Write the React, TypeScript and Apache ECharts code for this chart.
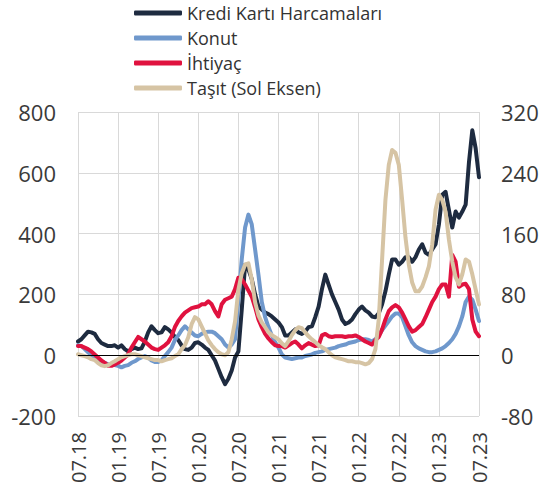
import React, { useEffect, useRef } from "react";
import * as echarts from "echarts";

// Half-month steps from 07.18 (index 0) to 07.23 (index 120)
const tickLabels = ["07.18", "01.19", "07.19", "01.20", "07.20", "01.21", "07.21", "01.22", "07.22", "01.23", "07.23"];

const seriesNames = ["Kredi Kartı Harcamaları", "Konut", "İhtiyaç", "Taşıt (Sol Eksen)"];

// Right axis units
const krediKarti = [
  18, 21, 26, 31, 30, 28, 21, 16, 14, 12,
  12, 13, 10, 13, 8, 5, 8, 10, 8, 9,
  18, 30, 38, 33, 29, 30, 37, 34, 30, 24,
  20, 13, 8, 7, 10, 16, 17, 14, 10, 7,
  0, -7, -18, -29, -38, -31, -20, -3, 5, 60,
  119, 113, 100, 80, 64, 60, 56, 54, 51, 47,
  43, 37, 26, 26, 30, 34, 30, 28, 31, 37,
  38, 50, 64, 87, 106, 93, 80, 70, 60, 47,
  41, 43, 47, 54, 60, 64, 59, 56, 51, 50,
  55, 67, 84, 106, 126, 126, 119, 123, 129, 129,
  123, 129, 139, 146, 135, 132, 139, 146, 172, 211,
  215, 191, 168, 189, 181, 189, 198, 254, 296, 272,
  234,
];

const konut = [
  13, 12, 8, 4, 0, -3, -5, -8, -10, -12,
  -13, -13, -14, -16, -14, -13, -10, -8, -5, -3,
  -1, -3, -7, -9, -9, -7, -1, 4, 10, 20,
  26, 33, 38, 34, 30, 26, 25, 28, 30, 31,
  31, 29, 25, 21, 14, 10, 14, 21, 73, 126,
  168, 185, 172, 139, 106, 70, 50, 37, 26, 17,
  10, 1, -3, -4, -5, -4, -3, -3, -1, 0,
  1, 3, 4, 5, 7, 8, 9, 10, 12, 13,
  14, 16, 17, 18, 20, 21, 21, 20, 18, 21,
  26, 33, 39, 45, 51, 55, 55, 50, 38, 26,
  17, 12, 9, 7, 5, 4, 4, 5, 7, 9,
  12, 16, 21, 28, 38, 51, 70, 77, 73, 60,
  45,
];

const ihtiyac = [
  12, 12, 10, 8, 5, 1, -3, -7, -10, -14,
  -14, -12, -10, -7, -3, 1, 10, 17, 24, 21,
  18, 14, 10, 8, 7, 10, 13, 17, 25, 37,
  45, 51, 56, 59, 62, 63, 64, 67, 67, 71,
  67, 58, 51, 67, 73, 75, 77, 87, 102, 100,
  93, 85, 77, 63, 47, 37, 28, 22, 17, 13,
  12, 12, 10, 13, 16, 18, 14, 9, 13, 16,
  14, 12, 13, 26, 28, 25, 24, 25, 25, 25,
  24, 25, 25, 26, 24, 21, 18, 16, 14, 20,
  24, 34, 47, 58, 63, 66, 63, 56, 47, 38,
  31, 33, 37, 41, 50, 60, 70, 77, 87, 93,
  93, 77, 132, 123, 90, 93, 94, 87, 47, 31,
  25,
];

// Left axis units
const tasit = [
  3, 0, -3, -7, -13, -16, -26, -33, -36, -33,
  -26, -20, -13, -7, -3, 0, 3, 3, 0, -3,
  -7, -10, -13, -16, -16, -20, -16, -13, -10, -3,
  3, 20, 33, 59, 102, 125, 118, 95, 72, 49,
  33, 20, 10, 3, 0, 10, 52, 111, 216, 269,
  298, 302, 249, 174, 131, 108, 92, 75, 66, 59,
  52, 39, 30, 46, 66, 82, 92, 89, 75, 62,
  52, 43, 33, 26, 20, 10, 0, -7, -10, -13,
  -16, -20, -20, -23, -23, -26, -30, -26, -13, 20,
  118, 315, 511, 626, 675, 666, 626, 511, 387, 298,
  239, 210, 210, 226, 256, 292, 364, 479, 528, 511,
  472, 380, 308, 256, 233, 266, 315, 308, 266, 216,
  167,
];

const colors = ["#1e2b40", "#6f98cc", "#e0123f", "#d6c4a4"];

const toPairs = (arr: number[]) => arr.map((v, i) => [i, v]);

export default function App() {
  const ref = useRef<HTMLDivElement>(null);
  useEffect(() => {
    if (!ref.current) return;
    const chart = echarts.init(ref.current, undefined, { renderer: "svg" });
    const font = "'Open Sans', 'Noto Sans', sans-serif";
    const mkSeries = (i: number, data: number[], axis: number, extra: any = {}) => ({
      name: seriesNames[i],
      type: "line",
      yAxisIndex: axis,
      data: toPairs(data),
      showSymbol: false,
      symbol: "none",
      lineStyle: { color: colors[i], width: 4, join: "round", cap: "round" },
      itemStyle: { color: colors[i] },
      ...extra,
    });
    chart.setOption({
      animation: false,
      backgroundColor: "#ffffff",
      textStyle: { fontFamily: font },
      legend: {
        orient: "vertical",
        left: 129,
        top: -2,
        itemWidth: 48,
        itemHeight: 5,
        itemGap: 5,
        icon: "roundRect",
        data: seriesNames,
        textStyle: { fontSize: 18, lineHeight: 20, color: "#333333", fontFamily: font },
      },
      grid: { left: 78, right: 63, top: 112, bottom: 75, containLabel: false },
      xAxis: {
        type: "value",
        min: 0,
        max: 120,
        interval: 12,
        axisLine: { show: false },
        axisTick: { show: false },
        splitLine: { show: true, lineStyle: { color: "#d9d9d9", width: 1 } },
        axisLabel: {
          rotate: 90,
          margin: 16,
          fontSize: 20,
          color: "#3a3a3a",
          fontFamily: font,
          formatter: (v: number) => tickLabels[Math.round(v / 12)] ?? "",
        },
      },
      yAxis: [
        {
          type: "value",
          min: -200,
          max: 800,
          interval: 200,
          axisLine: { show: false },
          axisTick: { show: false },
          splitLine: { show: true, lineStyle: { color: "#d9d9d9", width: 1 } },
          axisLabel: { fontSize: 22, color: "#3a3a3a", margin: 22, fontFamily: font },
        },
        {
          type: "value",
          min: -80,
          max: 320,
          interval: 80,
          position: "right",
          axisLine: { show: false },
          axisTick: { show: false },
          splitLine: { show: false },
          axisLabel: { fontSize: 22, color: "#3a3a3a", margin: 22, fontFamily: font },
        },
      ],
      series: [
        mkSeries(0, krediKarti, 1, {
          markLine: {
            silent: true,
            symbol: "none",
            label: { show: false },
            lineStyle: { color: "#000000", width: 1, type: "solid" },
            data: [{ yAxis: 0 }],
          },
        }),
        mkSeries(1, konut, 1),
        mkSeries(2, ihtiyac, 1),
        mkSeries(3, tasit, 0),
      ],
    });
    return () => chart.dispose();
  }, []);
  return (
    <div
      ref={ref}
      style={{ position: "fixed", left: 0, top: 0, width: 542, height: 491, background: "#fff" }}
    />
  );
}
